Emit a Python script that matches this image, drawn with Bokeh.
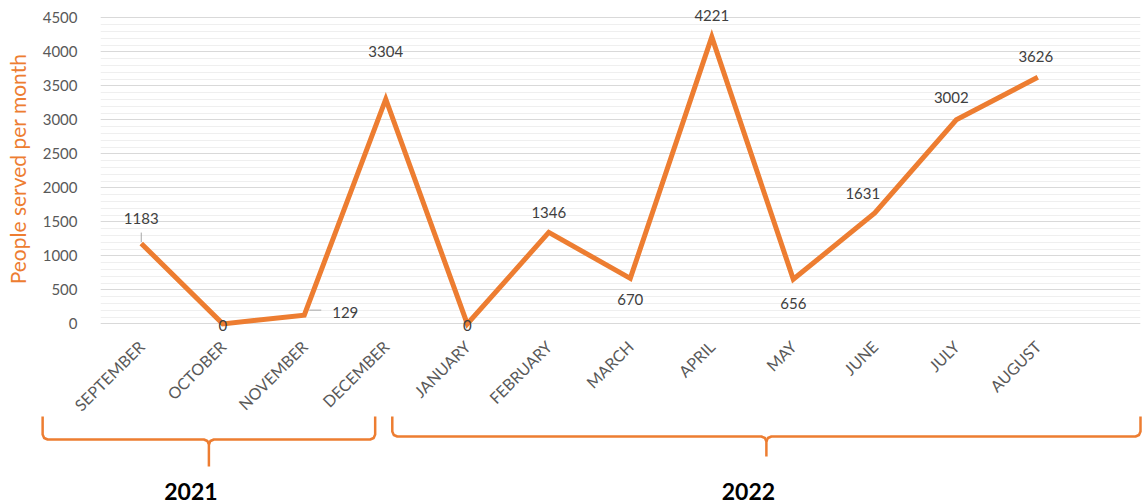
from bokeh.plotting import figure
from bokeh.models import Range1d, FixedTicker, ColumnDataSource, LabelSet
from bokeh.core.properties import value
from bokeh.embed import file_html
from bokeh.resources import INLINE

# ---- data ----
months = ["SEPTEMBER", "OCTOBER", "NOVEMBER", "DECEMBER", "JANUARY", "FEBRUARY",
          "MARCH", "APRIL", "MAY", "JUNE", "JULY", "AUGUST"]
people = [1183, 0, 129, 3304, 0, 1346, 670, 4221, 656, 1631, 3002, 3626]
y_ticks = [0, 500, 1000, 1500, 2000, 2500, 3000, 3500, 4000, 4500]
years = ["2021", "2022"]
year_first = [0, 4]    # index of first month of each year
year_last = [3, 11]    # index of last month of each year

# label placement (screen px offsets relative to the point, + = right / up)
lab_dx = [0, 0, 41, 0, 0, 0, 0, 0, 0, -12, -5, -2]
lab_dy = [25, -2, 3, 48, -2, 20, -21, 21, -24, 19, 22, 21]

ORANGE = "#ED7D31"
FONT = "Lato"

x_idx = list(range(len(months)))
X0, X1 = -0.5, 12.26
FRAME_W = 1040
sx = FRAME_W / (X1 - X0)   # px per category
sy = 306 / 4500            # px per person
FRAME_H = 337
Y0 = -200
Y1 = Y0 + FRAME_H / sy

p = figure(frame_width=FRAME_W, frame_height=FRAME_H,
           x_range=Range1d(X0, X1), y_range=Range1d(Y0, Y1),
           min_border_left=100, min_border_right=4, min_border_top=0,
           min_border_bottom=75,
           output_backend="svg", toolbar_location=None)
p.outline_line_color = None
p.background_fill_color = "white"
p.border_fill_color = "white"

p.xgrid.visible = False
p.yaxis.ticker = FixedTicker(ticks=y_ticks, minor_ticks=list(range(0, 4501, 100)))
p.ygrid.grid_line_color = "#d9d9d9"
p.ygrid.minor_grid_line_color = "#efefef"

p.yaxis.axis_line_color = None
p.yaxis.major_tick_line_color = None
p.yaxis.minor_tick_line_color = None
p.yaxis.major_label_standoff = 17
p.yaxis.major_label_text_font = FONT
p.yaxis.major_label_text_font_size = "15px"
p.yaxis.major_label_text_color = "#595959"
p.yaxis.axis_label = "People served per month"
p.yaxis.axis_label_text_color = ORANGE
p.yaxis.axis_label_text_font = FONT
p.yaxis.axis_label_text_font_size = "21px"
p.yaxis.axis_label_text_font_style = "normal"
p.yaxis.axis_label_standoff = 10

p.xaxis.ticker = FixedTicker(ticks=x_idx)
p.xaxis.major_label_overrides = {i: m for i, m in enumerate(months)}
p.xaxis.major_label_orientation = 0.785398
p.xaxis.axis_line_color = None
p.xaxis.major_tick_line_color = None
p.xaxis.minor_tick_line_color = None
p.xaxis.major_label_standoff = 0
p.xaxis.major_label_text_font = FONT
p.xaxis.major_label_text_font_size = "16px"
p.xaxis.major_label_text_color = "#595959"

src = ColumnDataSource(dict(x=x_idx, y=people, t=[str(v) for v in people],
                            dx=lab_dx, dy=lab_dy))
p.line("x", "y", source=src, line_color=ORANGE, line_width=5, line_join="miter")

# leader lines
p.segment(x0=[0, 2 + 5 / sx], y0=[people[0] + 20, people[2] + 5 / sy],
          x1=[0, 2 + 17 / sx], y1=[people[0] + 160, people[2] + 5 / sy],
          line_color="#a6a6a6", line_width=1)

p.add_layout(LabelSet(x="x", y="y", text="t", source=src, x_offset="dx", y_offset="dy",
                      text_align="center", text_baseline="middle",
                      text_font=value(FONT), text_font_size="15px", text_color="#404040"))

# ---- year brackets: separate strip below, sharing the category scale ----
Q_H = 92
q = figure(frame_width=1144, frame_height=Q_H,
           x_range=Range1d(X0 - 100 / sx, X1 + 4 / sx), y_range=Range1d(Q_H, 0),
           min_border=0, x_axis_type=None, y_axis_type=None,
           output_backend="svg", toolbar_location=None)
q.outline_line_color = None
q.xgrid.visible = False
q.ygrid.visible = False
q.background_fill_alpha = 0
q.border_fill_alpha = 0
q.styles = {"margin-top": "-13px"}

pad_left = [1.21, 0.92]    # bracket extends beyond first / last month (categories)
pad_right = [-0.13, 1.26]
y_top = [5, 5]             # px from strip top
y_bar = [28, 25]
y_tip = [55, 45]
r = 5
xs, ys, cx = [], [], []
for i, yr in enumerate(years):
    a = year_first[i] - pad_left[i]
    b = year_last[i] + pad_right[i]
    c = (a + b) / 2
    rx = r / sx
    xs.append([a, a, a + rx * 0.3, a + rx, c - rx, c - rx * 0.3, c, c])
    ys.append([y_top[i], y_bar[i] - r, y_bar[i] - r * 0.3, y_bar[i], y_bar[i],
               y_bar[i] + r * 0.3, y_bar[i] + r, y_tip[i]])
    xs.append([b, b, b - rx * 0.3, b - rx, c + rx, c + rx * 0.3, c])
    ys.append([y_top[i], y_bar[i] - r, y_bar[i] - r * 0.3, y_bar[i], y_bar[i],
               y_bar[i] + r * 0.3, y_bar[i] + r])
    cx.append(c)
q.multi_line(xs=xs, ys=ys, line_color=ORANGE, line_width=2.5, line_join="round")
q.text(x=cx, y=[79.5, 79.5], text=years, x_offset=-18, text_align="center",
       text_baseline="middle", text_font=value(FONT), text_font_size="23px",
       text_font_style="bold", text_color="black")

open("out.html", "w").write(file_html([p, q], INLINE))
